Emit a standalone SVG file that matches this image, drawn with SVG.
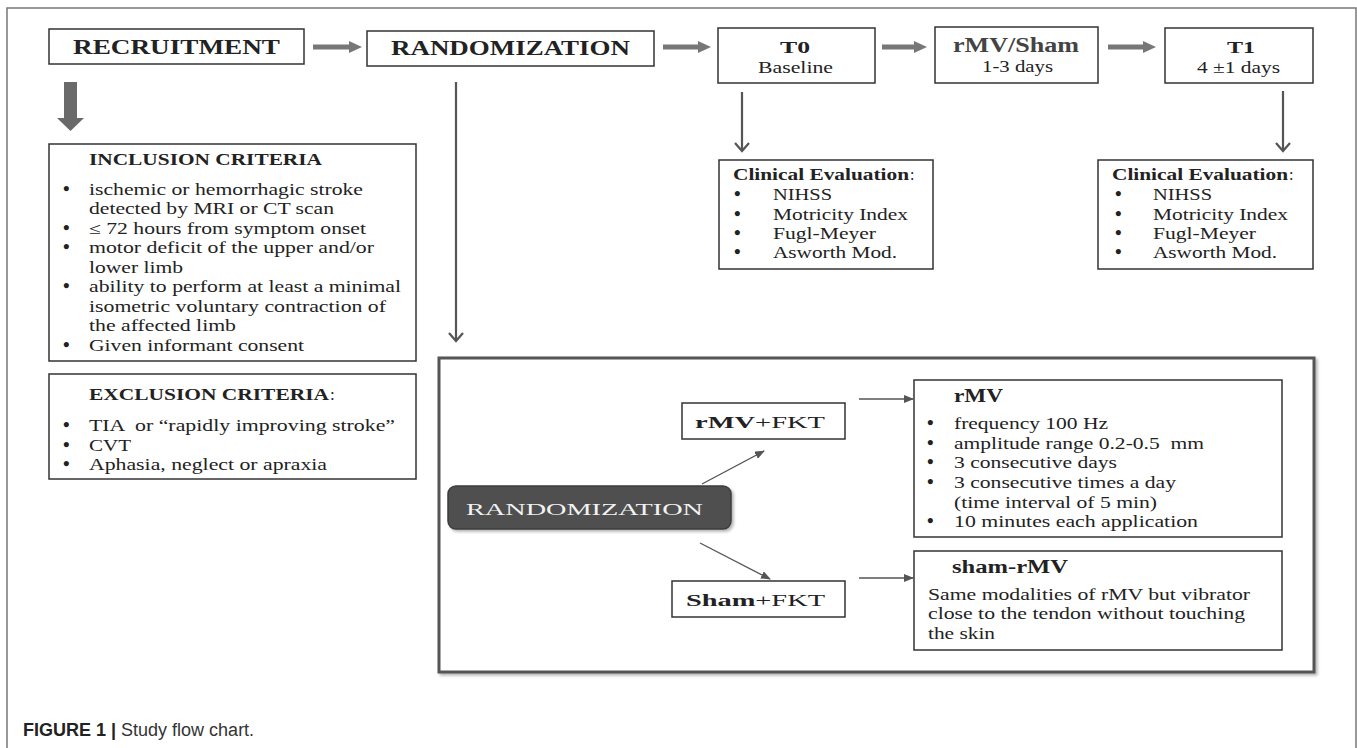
<svg xmlns="http://www.w3.org/2000/svg" width="1357" height="748" viewBox="0 0 1357 748">
<style>
.box{fill:#fff;stroke:#333;stroke-width:1.5}
.t{font-family:"Liberation Serif","Times New Roman",serif;fill:#222;font-size:16px}
.bu{font-family:"Liberation Serif","Times New Roman",serif;fill:#222;font-size:19px;font-weight:bold}
.b{font-weight:bold}
.h20{font-size:20px}
.h17{font-size:17px}
.h18{font-size:18px}
.thick{fill:#777}
.thin{stroke:#555;stroke-width:2.2;fill:none}
.fine{stroke:#555;stroke-width:1.3;fill:none}
.cap{font-family:"Liberation Sans",Arial,sans-serif;font-size:18px;fill:#333}
</style>
<defs>
<marker id="ah" markerWidth="10" markerHeight="8" refX="9" refY="4" orient="auto" markerUnits="userSpaceOnUse"><path d="M0,0 L10,4 L0,8 z" fill="#555"/></marker>
<filter id="sh" x="-5%" y="-5%" width="110%" height="115%"><feDropShadow dx="2" dy="2" stdDeviation="1.5" flood-color="#000" flood-opacity="0.3"/></filter>
</defs>
<rect width="1357" height="748" fill="#fff"/>
<path d="M7,748 V8 H1356 V748" fill="none" stroke="#777" stroke-width="1.5"/>

<g id="treatment-frame">
<rect x="439" y="358" width="875" height="314" fill="#fff" stroke="#555" stroke-width="3" filter="url(#sh)"/>
</g>

<g id="connectors">
<polygon class="thick" points="313,44.5 349,44.5 349,41 362,47 349,53 349,49.5 313,49.5"/>
<polygon class="thick" points="663,44.5 698,44.5 698,41 711,47 698,53 698,49.5 663,49.5"/>
<polygon class="thick" points="882,44.5 914,44.5 914,41 927,47 914,53 914,49.5 882,49.5"/>
<polygon class="thick" points="1108,44.5 1143,44.5 1143,41 1156,47 1143,53 1143,49.5 1108,49.5"/>
<polygon fill="#6a6a6a" points="64,82 77,82 77,118 84,118 70.5,131 57,118 64,118"/>
<path class="thin" d="M456,82 V341 M449,333 L456,341 L463,333"/>
<path class="thin" d="M742,92 V151 M735,143 L742,151 L749,143"/>
<path class="thin" d="M1283,91 V151 M1276,143 L1283,151 L1290,143"/>
<line class="fine" x1="702" y1="484" x2="764" y2="451" marker-end="url(#ah)"/>
<line class="fine" x1="700" y1="543" x2="770" y2="579" marker-end="url(#ah)"/>
<line class="fine" x1="859" y1="399" x2="913" y2="399" marker-end="url(#ah)"/>
<line class="fine" x1="859" y1="578" x2="913" y2="578" marker-end="url(#ah)"/>
</g>

<g id="recruitment">
<rect class="box" x="49" y="29" width="255" height="35"/>
<text class="t b h20" x="73" y="54" textLength="207" lengthAdjust="spacingAndGlyphs">RECRUITMENT</text>
</g>
<g id="randomization-top">
<rect class="box" x="367" y="31" width="287" height="35"/>
<text class="t b h20" x="391" y="55" textLength="239" lengthAdjust="spacingAndGlyphs">RANDOMIZATION</text>
</g>
<g id="t0">
<rect class="box" x="718" y="28" width="157" height="55"/>
<text class="t b" x="780" y="53" font-size="21" textLength="30" lengthAdjust="spacingAndGlyphs">T0</text>
<text class="t" x="758" y="73" font-size="17" textLength="75" lengthAdjust="spacingAndGlyphs">Baseline</text>
</g>
<g id="rmv-sham">
<rect class="box" x="935" y="27" width="163" height="56"/>
<text class="t b h20" x="953" y="52" style="fill:#444" textLength="126" lengthAdjust="spacingAndGlyphs">rMV/Sham</text>
<text class="t" x="982" y="72" font-size="17" textLength="71" lengthAdjust="spacingAndGlyphs">1-3 days</text>
</g>
<g id="t1">
<rect class="box" x="1165" y="28" width="148" height="55"/>
<text class="t b" x="1227" y="53" font-size="21" textLength="28" lengthAdjust="spacingAndGlyphs">T1</text>
<text class="t" x="1197" y="73" font-size="17" textLength="83" lengthAdjust="spacingAndGlyphs">4 ±1 days</text>
</g>

<g id="inclusion">
<rect class="box" x="49" y="144" width="367" height="217"/>
<text class="t b h17" x="89" y="165" textLength="233" lengthAdjust="spacingAndGlyphs">INCLUSION CRITERIA</text>
<text class="bu" x="63" y="195">•</text>
<text class="t" x="89" y="195" textLength="274" lengthAdjust="spacingAndGlyphs">ischemic or hemorrhagic stroke</text>
<text class="t" x="89" y="214" textLength="245" lengthAdjust="spacingAndGlyphs">detected by MRI or CT scan</text>
<text class="bu" x="63" y="233.5">•</text>
<text class="t" x="89" y="233.5" textLength="277" lengthAdjust="spacingAndGlyphs">≤ 72 hours from symptom onset</text>
<text class="bu" x="63" y="253">•</text>
<text class="t" x="89" y="253" textLength="285" lengthAdjust="spacingAndGlyphs">motor deficit of the upper and/or</text>
<text class="t" x="89" y="272.5" textLength="94" lengthAdjust="spacingAndGlyphs">lower limb</text>
<text class="bu" x="63" y="292">•</text>
<text class="t" x="89" y="292" textLength="312" lengthAdjust="spacingAndGlyphs">ability to perform at least a minimal</text>
<text class="t" x="89" y="311.5" textLength="297" lengthAdjust="spacingAndGlyphs">isometric voluntary contraction of</text>
<text class="t" x="89" y="331" textLength="147" lengthAdjust="spacingAndGlyphs">the affected limb</text>
<text class="bu" x="63" y="350.5">•</text>
<text class="t" x="89" y="350.5" textLength="215" lengthAdjust="spacingAndGlyphs">Given informant consent</text>
</g>

<g id="exclusion">
<rect class="box" x="49" y="374" width="367" height="105"/>
<text class="t b h17" x="89" y="400" textLength="240" lengthAdjust="spacingAndGlyphs">EXCLUSION CRITERIA</text>
<text class="t h17" x="330" y="400">:</text>
<text class="bu" x="63" y="431">•</text>
<text class="t" x="89" y="431" xml:space="preserve" textLength="306" lengthAdjust="spacingAndGlyphs">TIA  or “rapidly improving stroke”</text>
<text class="bu" x="63" y="451">•</text>
<text class="t" x="89" y="451" textLength="42" lengthAdjust="spacingAndGlyphs">CVT</text>
<text class="bu" x="63" y="470">•</text>
<text class="t" x="89" y="470" textLength="238" lengthAdjust="spacingAndGlyphs">Aphasia, neglect or apraxia</text>
</g>

<g id="clinical-t0">
<rect class="box" x="719" y="160" width="214" height="109"/>
<text class="t b" x="733" y="180" textLength="176" lengthAdjust="spacingAndGlyphs">Clinical Evaluation</text>
<text class="t" x="910" y="180">:</text>
<text class="bu" x="734" y="200">•</text><text class="t" x="773" y="200" textLength="59" lengthAdjust="spacingAndGlyphs">NIHSS</text>
<text class="bu" x="734" y="220">•</text><text class="t" x="773" y="220" textLength="135" lengthAdjust="spacingAndGlyphs">Motricity Index</text>
<text class="bu" x="734" y="239">•</text><text class="t" x="773" y="239" textLength="103" lengthAdjust="spacingAndGlyphs">Fugl-Meyer</text>
<text class="bu" x="734" y="258">•</text><text class="t" x="773" y="258" textLength="124" lengthAdjust="spacingAndGlyphs">Asworth Mod.</text>
</g>

<g id="clinical-t1">
<rect class="box" x="1098" y="160" width="215" height="109"/>
<text class="t b" x="1112" y="180" textLength="176" lengthAdjust="spacingAndGlyphs">Clinical Evaluation</text>
<text class="t" x="1289" y="180">:</text>
<text class="bu" x="1115" y="200">•</text><text class="t" x="1153" y="200" textLength="59" lengthAdjust="spacingAndGlyphs">NIHSS</text>
<text class="bu" x="1115" y="220">•</text><text class="t" x="1153" y="220" textLength="135" lengthAdjust="spacingAndGlyphs">Motricity Index</text>
<text class="bu" x="1115" y="239">•</text><text class="t" x="1153" y="239" textLength="103" lengthAdjust="spacingAndGlyphs">Fugl-Meyer</text>
<text class="bu" x="1115" y="258">•</text><text class="t" x="1153" y="258" textLength="124" lengthAdjust="spacingAndGlyphs">Asworth Mod.</text>
</g>

<g id="randomization-inner">
<rect x="448" y="486" width="283" height="43" rx="8" fill="#505050" stroke="#3d3d3d" stroke-width="1.5" filter="url(#sh)"/>
<text class="t" x="466" y="515" font-size="21" style="fill:#f2f2f2" textLength="237" lengthAdjust="spacingAndGlyphs">RANDOMIZATION</text>
</g>

<g id="rmv-fkt">
<rect class="box" x="682" y="403" width="163" height="36"/>
<text class="t" x="695" y="428" font-size="19" textLength="130" lengthAdjust="spacingAndGlyphs"><tspan font-weight="bold">rMV</tspan>+FKT</text>
</g>

<g id="sham-fkt">
<rect class="box" x="672" y="581" width="173" height="36"/>
<text class="t" x="686" y="606" font-size="19" textLength="139" lengthAdjust="spacingAndGlyphs"><tspan font-weight="bold">Sham</tspan>+FKT</text>
</g>

<g id="rmv-details">
<rect class="box" x="914" y="380" width="368" height="157"/>
<text class="t b h18" x="954" y="402" textLength="49" lengthAdjust="spacingAndGlyphs">rMV</text>
<text class="bu" x="927" y="429">•</text><text class="t" x="954" y="429" textLength="154" lengthAdjust="spacingAndGlyphs">frequency 100 Hz</text>
<text class="bu" x="927" y="449">•</text><text class="t" x="954" y="449" xml:space="preserve" textLength="250" lengthAdjust="spacingAndGlyphs">amplitude range 0.2-0.5  mm</text>
<text class="bu" x="927" y="468">•</text><text class="t" x="954" y="468" textLength="163" lengthAdjust="spacingAndGlyphs">3 consecutive days</text>
<text class="bu" x="927" y="488">•</text><text class="t" x="954" y="488" textLength="222" lengthAdjust="spacingAndGlyphs">3 consecutive times a day</text>
<text class="t" x="954" y="508" textLength="203" lengthAdjust="spacingAndGlyphs">(time interval of 5 min)</text>
<text class="bu" x="927" y="527">•</text><text class="t" x="954" y="527" textLength="244" lengthAdjust="spacingAndGlyphs">10 minutes each application</text>
</g>

<g id="sham-details">
<rect class="box" x="914" y="551" width="368" height="99"/>
<text class="t b h18" x="952" y="573" textLength="116" lengthAdjust="spacingAndGlyphs">sham-rMV</text>
<text class="t" x="928" y="600" textLength="322" lengthAdjust="spacingAndGlyphs">Same modalities of rMV but vibrator</text>
<text class="t" x="928" y="619" textLength="317" lengthAdjust="spacingAndGlyphs">close to the tendon without touching</text>
<text class="t" x="928" y="639" textLength="67" lengthAdjust="spacingAndGlyphs">the skin</text>
</g>

<g id="caption">
<text class="cap" x="23" y="736"><tspan font-weight="bold" style="fill:#222">FIGURE 1 |</tspan> Study flow chart.</text>
</g>
</svg>
